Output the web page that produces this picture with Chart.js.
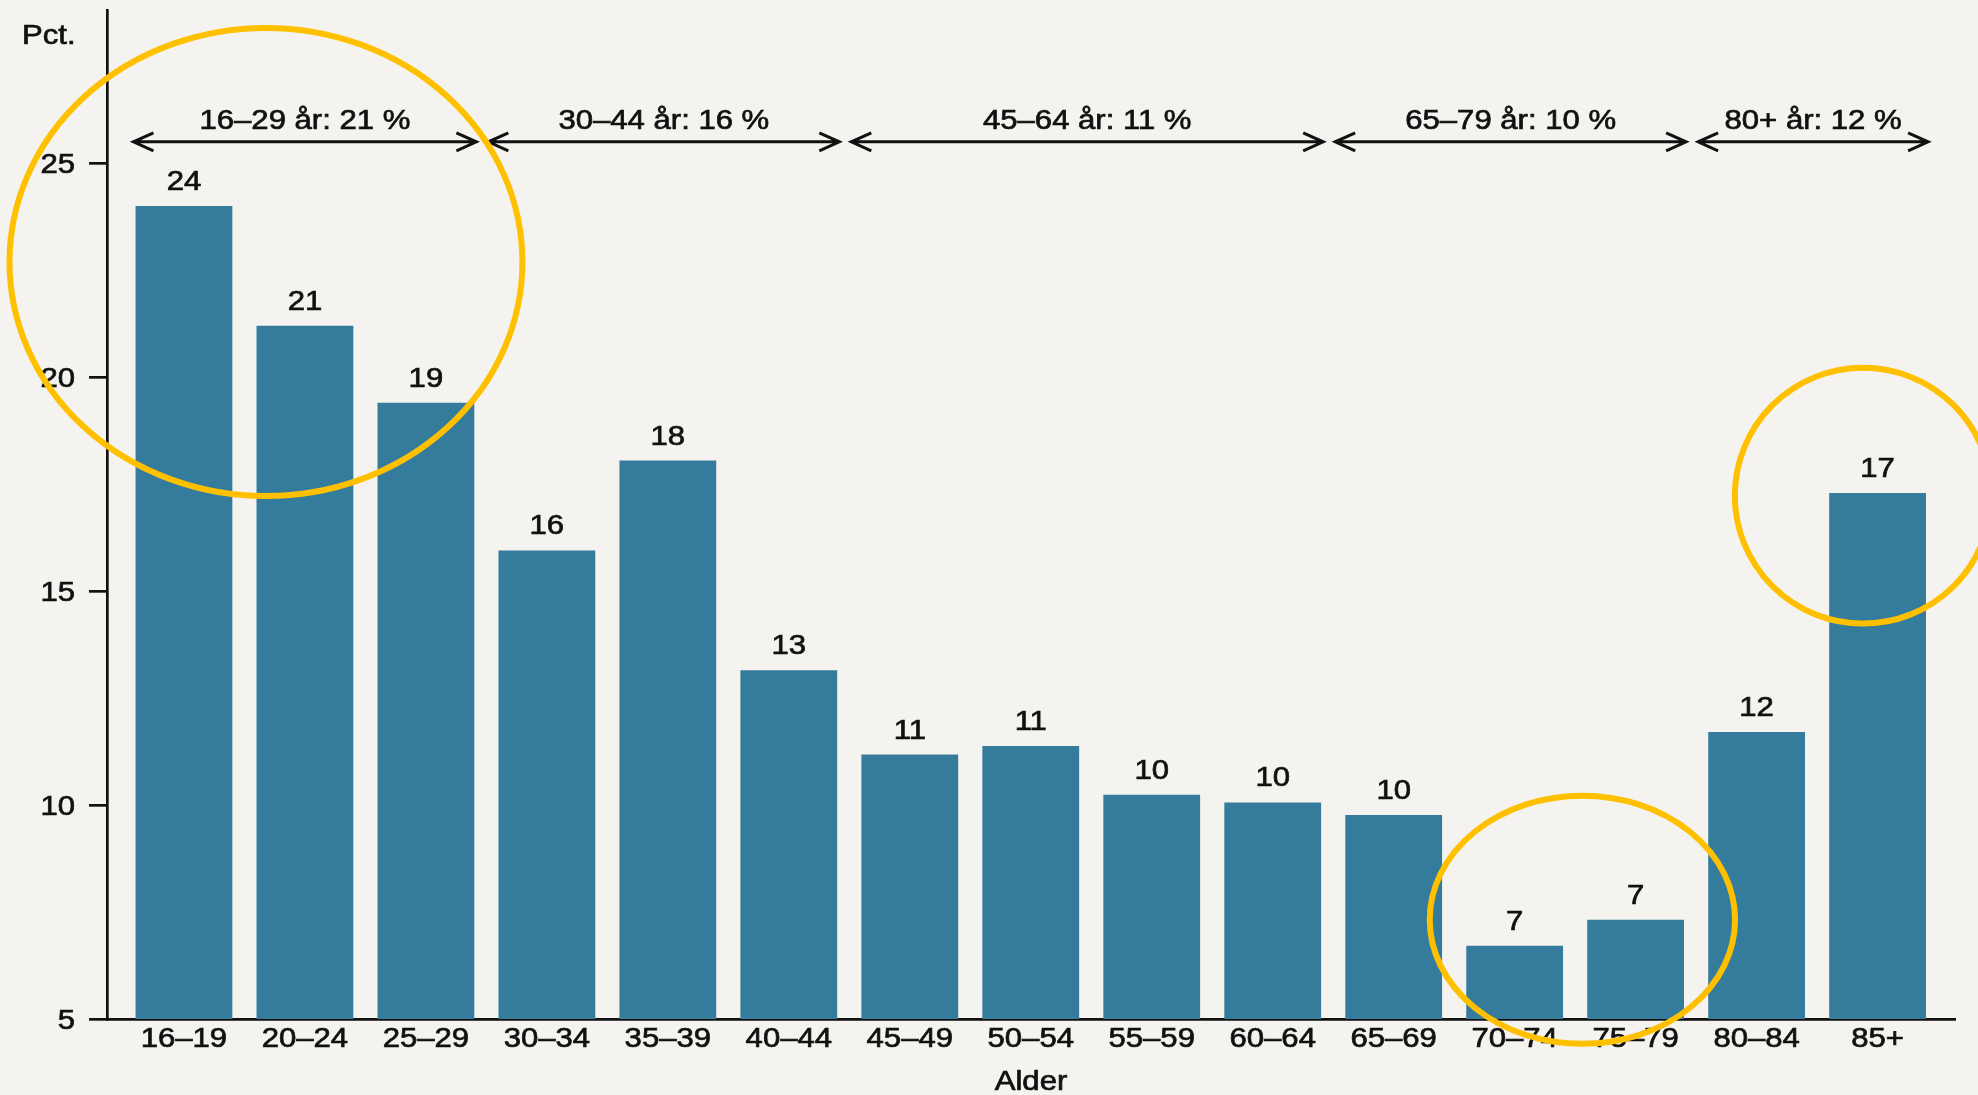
<!DOCTYPE html>
<html>
<head>
<meta charset="utf-8">
<script src="https://cdn.jsdelivr.net/npm/chart.js@4.4.1/dist/chart.umd.min.js"></script>
<style>
  html, body { margin: 0; padding: 0; background: #f4f3ef; }
  #wrap { width: 1978px; height: 1095px; position: relative; }
</style>
</head>
<body>
<div id="wrap"><canvas id="c"></canvas></div>
<script>
const categories = ['16–19', '20–24', '25–29', '30–34', '35–39', '40–44', '45–49', '50–54',
                    '55–59', '60–64', '65–69', '70–74', '75–79', '80–84', '85+'];
const values = [24.0, 21.2, 19.4, 15.95, 18.05, 13.15, 11.18, 11.38, 10.24, 10.06, 9.77, 6.71, 7.32, 11.71, 17.29];
const yTicks = [5, 10, 15, 20, 25];

const groupLabels = ['16–29 år: 21 %', '30–44 år: 16 %', '45–64 år: 11 %', '65–79 år: 10 %', '80+ år: 12 %'];
const groupFirst = [0, 3, 6, 10, 13];
const groupLast = [2, 5, 9, 12, 14];

const FAMILY = '"Liberation Sans", Arial, Helvetica, sans-serif';
const INK = '#111111';
const BAR = '#357b9c';
const YELLOW = '#ffc000';
const FS = 28;
const SX = 1.11;   // the original lettering is a bit wide

// yellow rings, centre and radii in data units (x = category index, y = pct)
const rings = [
  { x: 0.678, y: 22.69, rx: 2.12, ry: 5.47 },
  { x: 11.56, y: 7.32, rx: 1.262, ry: 2.90 },
  { x: 13.88, y: 17.23, rx: 1.06, ry: 2.99 }
];

function text(ctx, s, x, y, align) {
  ctx.save();
  ctx.translate(x, y);
  ctx.scale(SX, 1);
  ctx.textAlign = align;
  ctx.lineWidth = 0.7;
  ctx.strokeStyle = INK;
  ctx.fillText(s, 0, 0);
  ctx.strokeText(s, 0, 0);
  ctx.restore();
}

function arrowHead(ctx, x, y, dir) {
  ctx.moveTo(x - dir * 20, y - 9);
  ctx.lineTo(x, y);
  ctx.lineTo(x - dir * 20, y + 9);
}

const overlay = {
  id: 'overlay',
  beforeDraw(chart) {
    const ctx = chart.ctx;
    ctx.save();
    ctx.fillStyle = '#f4f3ef';
    ctx.fillRect(0, 0, chart.width, chart.height);
    ctx.restore();
  },
  afterDatasetsDraw(chart) {
    const ctx = chart.ctx;
    const xs = chart.scales.x, ys = chart.scales.y;
    const area = chart.chartArea;
    ctx.save();
    ctx.fillStyle = INK;
    ctx.font = FS + 'px ' + FAMILY;
    ctx.textBaseline = 'alphabetic';

    // axis tick labels
    categories.forEach((c, i) => text(ctx, c, xs.getPixelForValue(i), area.bottom + 28, 'center'));
    yTicks.forEach(v => text(ctx, String(v), area.left - 32, ys.getPixelForValue(v) + 10, 'right'));
    text(ctx, 'Alder', (area.left + area.right) / 2, 1090, 'center');
    text(ctx, 'Pct.', 22, 44, 'left');

    // value labels over bars
    chart.getDatasetMeta(0).data.forEach((bar, i) => {
      text(ctx, String(Math.round(values[i])), bar.x, bar.y - 16, 'center');
    });

    // age-group brackets
    const ay = ys.getPixelForValue(25.5);
    ctx.strokeStyle = INK;
    ctx.lineWidth = 3;
    ctx.lineJoin = 'miter';
    groupLabels.forEach((lab, g) => {
      const x0 = xs.getPixelForValue(groupFirst[g] - 0.5) + (g === 0 ? 10 : 2);
      const x1 = xs.getPixelForValue(groupLast[g] + 0.5) - 10;
      ctx.beginPath();
      ctx.moveTo(x0, ay); ctx.lineTo(x1, ay);
      arrowHead(ctx, x0, ay, -1);
      arrowHead(ctx, x1, ay, 1);
      ctx.stroke();
      text(ctx, lab, (x0 + x1) / 2, ay - 12.5, 'center');
    });
    ctx.restore();
  },
  afterDraw(chart) {
    const ctx = chart.ctx;
    const xs = chart.scales.x, ys = chart.scales.y;
    const pxX = xs.getPixelForValue(1) - xs.getPixelForValue(0);
    const pxY = ys.getPixelForValue(5) - ys.getPixelForValue(6);
    ctx.save();
    ctx.strokeStyle = YELLOW;
    ctx.lineWidth = 6;
    rings.forEach(r => {
      ctx.beginPath();
      ctx.ellipse(xs.getPixelForValue(r.x), ys.getPixelForValue(r.y), r.rx * pxX, r.ry * pxY, 0, 0, Math.PI * 2);
      ctx.stroke();
    });
    ctx.restore();
  }
};

new Chart(document.getElementById('c'), {
  type: 'bar',
  data: {
    datasets: [{
      data: values.map((v, i) => ({ x: i, y: v })),
      backgroundColor: BAR,
      borderWidth: 0,
      barPercentage: 0.8,
      categoryPercentage: 1
    }]
  },
  options: {
    responsive: true,
    maintainAspectRatio: false,
    animation: false,
    layout: { padding: { top: 10, right: 23, left: 0, bottom: 0 } },
    plugins: { legend: { display: false }, tooltip: { enabled: false } },
    scales: {
      x: {
        type: 'linear',
        offset: false,
        min: -0.636,
        max: 14.64,
        afterBuildTicks: s => { s.ticks = categories.map((_, i) => ({ value: i })); },
        afterFit: s => { s.height = 76; s.paddingLeft = 0; s.paddingRight = 0; },
        ticks: { display: false },
        grid: { display: false },
        border: { display: true, color: INK, width: 2.7 }
      },
      y: {
        min: 5,
        max: 28.58,
        afterBuildTicks: s => { s.ticks = yTicks.map(v => ({ value: v })); },
        afterFit: s => { s.width = 107; s.paddingTop = 0; s.paddingBottom = 0; },
        ticks: { display: false },
        grid: { drawOnChartArea: false, tickLength: 18, color: INK, lineWidth: 2.7 },
        border: { display: true, color: INK, width: 2.7 }
      }
    }
  },
  plugins: [overlay]
});
</script>
</body>
</html>
